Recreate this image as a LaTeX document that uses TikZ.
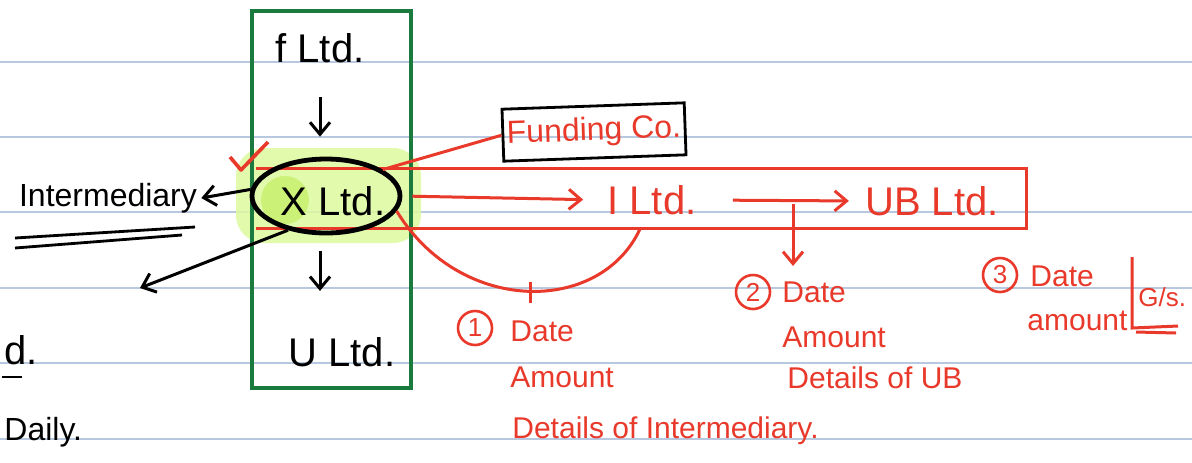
\documentclass[tikz,border=0pt]{standalone}
\usepackage{fontspec}
\setmainfont{Liberation Sans}
\usetikzlibrary{arrows.meta,shapes.geometric,calc}
\definecolor{penred}{HTML}{E8392A}
\definecolor{pengreen}{HTML}{1B7A3E}
\definecolor{ruled}{HTML}{B8C8DE}
\definecolor{hilite}{HTML}{DDFA9E}
\definecolor{hilite2}{HTML}{C8F06E}
\begin{document}
\begin{tikzpicture}[x=0.5pt,y=-0.5pt,
 blk/.style={font=\fontsize{20}{22}\selectfont, text=black, inner sep=2pt},
 redtxt/.style={font=\fontsize{15}{17}\selectfont, text=penred, inner sep=1pt, anchor=west},
 redbig/.style={font=\fontsize{20}{22}\selectfont, text=penred, inner sep=2pt},
 blkarr/.style={draw=black, line width=1.5pt, -{Straight Barb[length=6pt,width=10pt]}},
 redarr/.style={draw=penred, line width=1.5pt, -{Straight Barb[length=6pt,width=10pt]}},
 redln/.style={draw=penred, line width=1.5pt},
 blkln/.style={draw=black, line width=1.4pt},
 num/.style={circle, draw=penred, line width=1.3pt, text=penred, font=\fontsize{13}{14}\selectfont, minimum size=17pt, inner sep=0pt},
 ruleline/.style={draw=ruled, line width=0.8pt}
]
\useasboundingbox (0,0) rectangle (1192,462);
\fill[white] (0,0) rectangle (1192,462);
\clip (0,0) rectangle (1192,462);
\foreach \yy in {62,137,212,288,363,439} \draw[ruleline] (0,\yy) -- (1192,\yy);

% highlight
\fill[hilite, fill opacity=0.85, rounded corners=14pt] (236,148) rectangle (421,243);
\fill[hilite2, fill opacity=0.85] (285,200) circle[radius=24];

% green column
\draw[pengreen, line width=1.6pt] (252,11) rectangle (411,388);

% red box
\draw[redln] (256,168) -- (1026,168) -- (1026,228) -- (256,228);

% ellipse
\node[draw=black, line width=2.4pt, ellipse, minimum width=74pt, minimum height=37pt, inner sep=0pt] (Xe) at (326,196) {};

% texts
\node[blk] (F) at (320,48) {f Ltd.};
\node[blk] (X) at (333,201) {X Ltd.};
\node[blk] (U) at (342,352) {U Ltd.};
\node[redbig] (I) at (652,200) {I Ltd.};
\node[redbig] (UB) at (932,201) {UB Ltd.};
\node[draw=black, line width=1.4pt, minimum width=86pt, minimum height=26pt, rotate=2, text=penred, font=\fontsize{16}{18}\selectfont, inner sep=2pt] (FC) at (594,132) {Funding Co.};
\node[blk, font=\fontsize{16}{18}\selectfont] (Int) at (108,198) {Intermediary};

% black arrows
\draw[blkarr, shorten <=15pt, shorten >=10pt] (F.south) -- (F.south |- Xe.north);
\draw[blkarr, shorten <=8pt, shorten >=21pt] (F.south |- Xe.south) -- (F.south |- U.north);
\draw[blkarr] (Xe.175) -- (Int.east);
\coordinate (lt) at (140,288);
\draw[blkarr] (Xe.222) -- (lt);
\draw[blkln] (15,238) -- (195,227);
\draw[blkln] (15,248) -- (182,235);

% red connectors
\draw[redarr, shorten <=5pt, shorten >=10pt] (Xe.east) -- (I.west);
\draw[redarr, shorten <=16pt, shorten >=6pt] (I.east) -- (UB.west);
\coordinate (m2) at (793,204);
\coordinate (e2) at (793,266);
\draw[redarr] (m2) -- (e2);
\coordinate (c1) at (640,229);
\draw[redln] (Xe.-12) .. controls (460,315) and (600,315) .. (c1);
\coordinate (t1) at (530,282);
\coordinate (t2) at (530,303);
\draw[redln] (t1) -- (t2);
\draw[redln] (Xe.25) -- (FC.west);
\draw[penred, line width=1.8pt, line join=round] (230,157) -- (241,170) -- (268,142);

% notes
\node[num] (n1) at (475,328) {1};
\node[redtxt] (d1) at (508,331) {Date};
\node[redtxt] (a1) at (508,377) {Amount};
\node[redtxt] (i1) at (510,431) {Details of Intermediary.};
\node[num] (n2) at (753,292) {2};
\node[redtxt] (d2) at (780,292) {Date};
\node[redtxt] (a2) at (780,337) {Amount};
\node[redtxt] (u2) at (785,378) {Details of UB};
\node[num] (n3) at (1000,275) {3};
\node[redtxt] (d3) at (1028,276) {Date};
\node[redtxt] (a3) at (1025,321) {amount};
\node[redtxt, font=\fontsize{13}{14}\selectfont] (gs) at (1136,297) {G/s.};
\draw[redln] (1132,257) -- (1132,328) -- (1178,326);
\draw[redln] (1136,332) -- (1176,333);

% text at left edge
\node[blk, anchor=west, inner sep=1pt] (ltdcut) at (2,350) {d.};
\draw[blkln] (2,377) -- (22,377);
\node[blk, anchor=west, inner sep=1pt, font=\fontsize{16}{18}\selectfont] (dailycut) at (2,432) {Daily.};
\end{tikzpicture}
\end{document}
